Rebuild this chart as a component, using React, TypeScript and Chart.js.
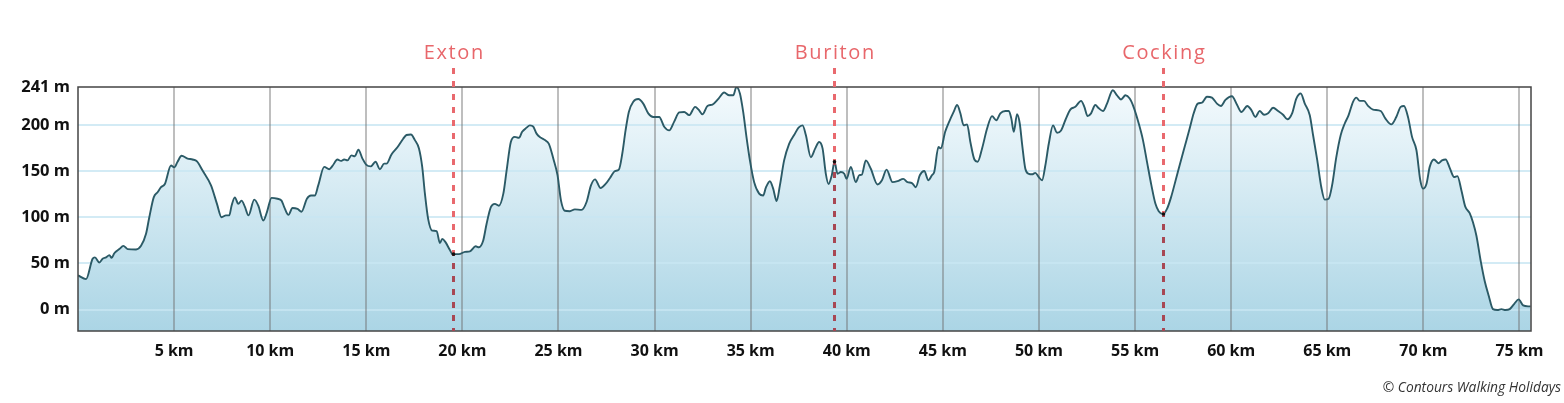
import React, { useEffect, useRef } from "react";
import { Chart, registerables } from "chart.js";

Chart.register(...registerables);

const distancesKm = [
  0, 0.42, 0.76, 0.88, 1.11, 1.28, 1.46, 1.63, 1.75, 1.89, 2.15, 2.36, 2.58, 3.02, 3.28, 3.54, 3.71, 3.94, 4.14, 4.32,
  4.52, 4.84, 5.01, 5.18, 5.39, 5.7, 5.96, 6.19, 6.48, 6.92, 7.23, 7.47, 7.7, 7.87, 7.99, 8.16, 8.34, 8.51, 8.68, 8.87,
  9.17, 9.38, 9.64, 9.83, 10.07, 10.38, 10.59, 10.73, 10.95, 11.16, 11.42, 11.63, 11.91, 12.12, 12.32, 12.5, 12.81, 13.07, 13.24, 13.5,
  13.68, 13.85, 14.02, 14.23, 14.4, 14.59, 14.8, 14.99, 15.23, 15.48, 15.71, 15.93, 16.05, 16.31, 16.63, 16.92, 17.09, 17.32, 17.53, 17.74,
  17.91, 18.05, 18.22, 18.43, 18.66, 18.83, 18.95, 19.12, 19.35, 19.49, 19.82, 20.13, 20.39, 20.69, 20.86, 21.08, 21.26, 21.48, 21.69, 21.9,
  22.13, 22.3, 22.52, 22.73, 22.94, 23.11, 23.34, 23.51, 23.69, 23.86, 24.09, 24.29, 24.5, 24.73, 24.95, 25.13, 25.33, 25.59, 25.85, 26.2,
  26.46, 26.69, 26.9, 27.19, 27.45, 27.68, 27.94, 28.14, 28.32, 28.49, 28.66, 28.89, 29.15, 29.41, 29.67, 29.93, 30.24, 30.5, 30.76, 31.02,
  31.28, 31.54, 31.8, 32.11, 32.29, 32.49, 32.75, 33.01, 33.33, 33.62, 33.88, 34.09, 34.26, 34.44, 34.61, 34.78, 34.96, 35.18, 35.44, 35.65,
  35.79, 36.0, 36.17, 36.35, 36.52, 36.74, 37.0, 37.26, 37.49, 37.7, 37.87, 38.13, 38.36, 38.56, 38.74, 38.91, 39.05, 39.22, 39.36, 39.52,
  39.69, 39.87, 39.99, 40.21, 40.47, 40.65, 40.78, 40.99, 41.25, 41.6, 41.83, 42.07, 42.38, 42.64, 42.94, 43.16, 43.39, 43.59, 43.8, 44.03,
  44.25, 44.43, 44.55, 44.77, 44.89, 45.12, 45.33, 45.56, 45.74, 45.91, 46.08, 46.26, 46.43, 46.64, 46.81, 47.04, 47.3, 47.56, 47.78, 47.99,
  48.25, 48.43, 48.56, 48.69, 48.86, 49.0, 49.12, 49.29, 49.47, 49.64, 49.81, 49.99, 50.16, 50.33, 50.51, 50.73, 50.94, 51.15, 51.37, 51.63,
  51.89, 52.19, 52.36, 52.53, 52.71, 52.93, 53.11, 53.33, 53.54, 53.84, 54.06, 54.27, 54.5, 54.72, 54.93, 55.19, 55.41, 55.62, 55.85, 56.06,
  56.23, 56.44, 56.66, 56.87, 57.18, 57.53, 57.84, 58.05, 58.26, 58.48, 58.74, 59.0, 59.26, 59.47, 59.7, 60.04, 60.31, 60.53, 60.84, 61.05,
  61.26, 61.48, 61.71, 61.92, 62.18, 62.44, 62.7, 62.92, 63.17, 63.39, 63.62, 63.83, 64.09, 64.26, 64.48, 64.69, 64.87, 65.07, 65.25, 65.47,
  65.7, 65.91, 66.11, 66.34, 66.51, 66.69, 66.91, 67.12, 67.38, 67.78, 68.02, 68.33, 68.59, 68.82, 68.99, 69.2, 69.41, 69.64, 69.84, 69.98,
  70.16, 70.33, 70.55, 70.8, 70.97, 71.16, 71.37, 71.6, 71.77, 71.98, 72.18, 72.41, 72.58, 72.76, 72.98, 73.19, 73.4, 73.62, 73.85, 74.06,
  74.27, 74.49, 74.72, 74.96, 75.19, 75.45, 75.58,
];

const elevationsM = [
  37, 33, 55, 56.5, 51, 55, 56.5, 59, 56, 61, 65.5, 69, 65.5, 65, 69, 82, 100, 121.5, 127, 132.5,
  136, 156, 154, 160, 166.5, 163.5, 162.5, 160.5, 150.5, 134.5, 114.5, 100, 102, 102, 112.5, 121.5, 114.5, 118, 111.5, 102,
  119, 112.5, 96.5, 105.5, 121, 120, 118, 111, 102.5, 110, 109, 106, 120, 123.5, 123.5, 134.5, 154.5, 152, 155.5, 162.5,
  161, 162.5, 161.5, 167, 166, 173, 163.5, 157, 155, 160, 152, 158, 158, 168, 176, 185, 189, 189.5, 183.5, 174.5,
  154.5, 125.5, 98, 85.5, 85, 72, 76.5, 73, 64.5, 60, 60, 62.5, 63, 68.5, 67.5, 74.5, 93, 111, 114.5, 112.5,
  125.5, 150.5, 181.5, 187, 186, 192.5, 197, 199.5, 198, 190.5, 186, 183.5, 179.5, 163.5, 145.5, 118, 107, 106.5, 108.5, 108,
  116.5, 134.5, 141, 131.5, 136, 142.5, 150, 151.5, 169, 194, 214, 225, 228, 223, 212.5, 208.5, 208.5, 198, 194, 203.5,
  213.5, 214, 210.5, 219.5, 216.5, 211.5, 220.5, 222, 228.5, 235, 232, 232, 241, 234, 214, 187, 161.5, 138, 125.5, 123.5,
  132, 139, 131, 117.5, 134.5, 161.5, 179.5, 189, 197, 199.5, 189, 165, 174.5, 181.5, 174.5, 147, 136, 145.5, 160, 147,
  149, 147, 141.5, 154.5, 138, 145.5, 146, 161.5, 152.5, 135.5, 140, 151.5, 138, 139, 141.5, 138, 137, 132.5, 145.5, 150,
  140, 145.5, 149, 176, 174.5, 192.5, 203.5, 214, 221.5, 212.5, 199.5, 200.5, 181.5, 162.5, 160, 174.5, 196, 209.5, 205, 212.5,
  215, 215, 207, 192.5, 211.5, 201.5, 179.5, 152.5, 147, 146.5, 148, 143.5, 140, 156, 179.5, 199.5, 191.5, 194, 205, 216.5,
  219.5, 226, 219.5, 209.5, 212.5, 221.5, 218, 215, 223, 237.5, 232, 227.5, 232, 228.5, 219, 201.5, 183.5, 160, 134.5, 114.5,
  106.5, 103.5, 109, 121.5, 145.5, 172.5, 196, 212.5, 223, 224, 230.5, 229.5, 223, 220.5, 227, 231, 221.5, 214, 220.5, 216,
  208.5, 215, 211, 212.5, 218.5, 215, 211, 206, 212.5, 228.5, 234, 223, 210.5, 189, 161.5, 132.5, 119, 120, 134.5, 165,
  189, 201.5, 210.5, 225, 229.5, 226, 226, 220.5, 216.5, 215, 207, 200.5, 208.5, 219.5, 220.5, 208.5, 187, 172.5, 140, 131,
  136, 154.5, 162.5, 158.5, 161.5, 162.5, 153.5, 143.5, 144.5, 129, 111.5, 104.5, 94.5, 80, 53, 31, 15, 0.5, -0.5, 0.5,
  -0.5, 0.5, 6, 11, 4.5, 3.5, 3.5,
];

const markerNames = ["Exton", "Buriton", "Cocking"];
const markerKm = [19.5, 39.36, 56.44];

const xTickKm = [5, 10, 15, 20, 25, 30, 35, 40, 45, 50, 55, 60, 65, 70, 75];
const yTickM = [0, 50, 100, 150, 200, 241];
const xMaxKm = 75.6;
const yMinM = -23.2;
const yMaxM = 241;
const creditText = "© Contours Walking Holidays";

function elevationAt(km: number): number {
  for (let i = 0; i < distancesKm.length - 1; i++) {
    const a = distancesKm[i];
    const b = distancesKm[i + 1];
    if (km >= a && km <= b) {
      const t = (km - a) / (b - a);
      return elevationsM[i] + t * (elevationsM[i + 1] - elevationsM[i]);
    }
  }
  return elevationsM[elevationsM.length - 1];
}

const FONT = '"Open Sans", "DejaVu Sans", sans-serif';

const overlayPlugin = {
  id: "profileOverlay",
  beforeDatasetDraw(chart: any, args: any) {
    if (args.index !== 1) return;
    const { ctx, chartArea, scales } = chart;
    const { left, right, top, bottom } = chartArea;
    ctx.save();
    ctx.lineWidth = 2;
    ctx.strokeStyle = "rgba(200,230,243,0.8)";
    for (const v of yTickM) {
      if (v >= yMaxM) continue;
      const py = Math.round(scales.y.getPixelForValue(v));
      ctx.beginPath();
      ctx.moveTo(left, py);
      ctx.lineTo(right, py);
      ctx.stroke();
    }
    ctx.strokeStyle = "rgba(110,110,110,0.45)";
    for (const v of xTickKm) {
      const px = Math.round(scales.x.getPixelForValue(v));
      ctx.beginPath();
      ctx.moveTo(px, top);
      ctx.lineTo(px, bottom);
      ctx.stroke();
    }
    ctx.restore();
  },
  afterDatasetsDraw(chart: any) {
    const { ctx, chartArea, scales } = chart;
    const { left, right, top, bottom } = chartArea;
    ctx.save();
    ctx.strokeStyle = "#444";
    ctx.lineWidth = 1.5;
    ctx.strokeRect(left, top, right - left, bottom - top);

    markerNames.forEach((name, i) => {
      const px = Math.round(scales.x.getPixelForValue(markerKm[i])) + 0.5;
      const py = scales.y.getPixelForValue(elevationAt(markerKm[i]));
      const y0 = top - 19;
      const drawDash = (color: string, clipTop: number, clipBottom: number) => {
        ctx.save();
        ctx.beginPath();
        ctx.rect(px - 5, clipTop, 10, clipBottom - clipTop);
        ctx.clip();
        ctx.setLineDash([6, 7]);
        ctx.lineWidth = 3;
        ctx.strokeStyle = color;
        ctx.beginPath();
        ctx.moveTo(px, y0);
        ctx.lineTo(px, bottom);
        ctx.stroke();
        ctx.restore();
      };
      drawDash("#e9696e", y0 - 2, py);
      drawDash("#a84753", py, bottom);
      ctx.fillStyle = "#111";
      ctx.beginPath();
      ctx.arc(px, py, 1.8, 0, Math.PI * 2);
      ctx.fill();

      ctx.save();
      ctx.fillStyle = "#e8676b";
      ctx.font = `500 20px ${FONT}`;
      try {
        (ctx as any).letterSpacing = "1.6px";
      } catch (e) {}
      ctx.textAlign = "center";
      ctx.textBaseline = "alphabetic";
      ctx.fillText(name, px + 0.8, top - 28);
      ctx.restore();
    });
    ctx.restore();
  },
  afterDraw(chart: any) {
    const { ctx } = chart;
    ctx.save();
    ctx.fillStyle = "#333";
    ctx.font = `italic 13.8px ${FONT}`;
    ctx.textAlign = "right";
    ctx.textBaseline = "middle";
    ctx.fillText(creditText, chart.width - 3, 388);
    ctx.restore();
  },
};

export default function App() {
  const canvasRef = useRef<HTMLCanvasElement | null>(null);

  useEffect(() => {
    const canvas = canvasRef.current;
    if (!canvas) return;
    const points = distancesKm.map((d, i) => ({ x: d, y: elevationsM[i] }));

    const fillColor = (c: any) => {
      const chart = c.chart;
      const area = chart.chartArea;
      if (!area) return "rgba(190,224,236,1)";
      const g = chart.ctx.createLinearGradient(0, area.top, 0, area.bottom);
      g.addColorStop(0, "#f4fafd");
      g.addColorStop(1, "#abd5e5");
      return g;
    };

    const chart = new Chart(canvas, {
      type: "line",
      data: {
        datasets: [
          {
            data: points,
            fill: "start",
            backgroundColor: fillColor,
            borderWidth: 0,
            borderColor: "rgba(0,0,0,0)",
            pointRadius: 0,
            cubicInterpolationMode: "monotone",
            order: 2,
          },
          {
            data: points,
            fill: false,
            borderColor: "#2b5a66",
            borderWidth: 1.9,
            pointRadius: 0,
            cubicInterpolationMode: "monotone",
            order: 1,
          },
        ],
      },
      options: {
        responsive: false,
        animation: false,
        devicePixelRatio: 1,
        events: [],
        layout: { padding: { top: 87, right: 33, left: 0, bottom: 0 } },
        plugins: {
          legend: { display: false },
          tooltip: { enabled: false },
          title: { display: false },
          filler: { drawTime: "beforeDatasetDraw" } as any,
        },
        scales: {
          x: {
            type: "linear",
            min: 0,
            max: xMaxKm,
            grid: { display: false, drawTicks: false },
            border: { display: false },
            afterBuildTicks: (scale: any) => {
              scale.ticks = xTickKm.map((v) => ({ value: v }));
            },
            afterFit: (scale: any) => {
              scale.height = 72;
            },
            ticks: {
              autoSkip: false,
              maxRotation: 0,
              padding: 11,
              color: "#111",
              font: { family: FONT, size: 16, weight: "bold" },
              callback: (v: any) => `${v} km`,
            },
          },
          y: {
            type: "linear",
            min: yMinM,
            max: yMaxM,
            grid: { display: false, drawTicks: false },
            border: { display: false },
            afterBuildTicks: (scale: any) => {
              scale.ticks = yTickM.map((v) => ({ value: v }));
            },
            afterFit: (scale: any) => {
              scale.width = 78;
            },
            ticks: {
              autoSkip: false,
              padding: 8,
              color: "#111",
              font: { family: FONT, size: 16.5, weight: "bold" },
              callback: (v: any) => `${v} m`,
            },
          },
        },
      },
      plugins: [overlayPlugin],
    } as any);

    return () => chart.destroy();
  }, []);

  return (
    <div style={{ position: "fixed", left: 0, top: 0, width: 1564, height: 403, background: "#fff" }}>
      <canvas ref={canvasRef} width={1564} height={403} style={{ display: "block", width: 1564, height: 403 }} />
    </div>
  );
}
